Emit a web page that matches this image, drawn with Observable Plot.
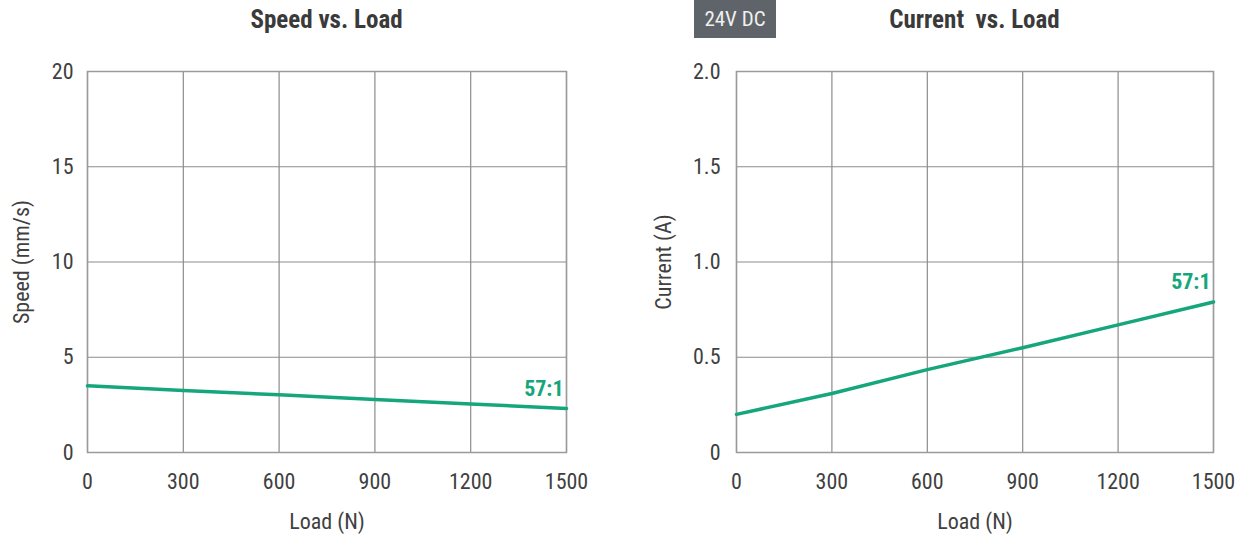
<!DOCTYPE html>
<html>
<head>
<meta charset="utf-8">
<script src="https://cdn.jsdelivr.net/npm/d3@7"></script>
<script src="https://cdn.jsdelivr.net/npm/@observablehq/plot@0.6"></script>
<style>
  html, body { margin: 0; padding: 0; background: #fff; }
  #page { position: relative; width: 1247px; height: 537px; overflow: hidden;
    font-family: "Liberation Sans Narrow", "Arial Narrow", "Roboto Condensed", "DejaVu Sans Condensed", sans-serif; color: #3d3d3d; }
  .title { position: absolute; top: 3px; height: 34px; line-height: 34px; font-size: 25px; font-weight: bold; text-align: center; white-space: pre; color: #3a3a3a; }
  .badge { position: absolute; left: 694px; top: 0px; width: 82px; height: 38px; line-height: 38px; background: #5e6469; color: #f0f0f0; font-size: 21px; text-align: center; }
  .chart { position: absolute; top: 44px; }
</style>
</head>
<body>
<div id="page">
  <div class="title" style="left:87px;width:479px;">Speed vs. Load</div>
  <div class="badge">24V DC</div>
  <div class="title" style="left:736px;width:477px;">Current  vs. Load</div>
  <div class="chart" id="left" style="left:0px;"></div>
  <div class="chart" id="right" style="left:623px;"></div>
</div>
<script>
const loads = [0, 300, 600, 900, 1200, 1500];
const speed = [3.5, 3.26, 3.03, 2.78, 2.55, 2.31];
const current = [0.2, 0.31, 0.435, 0.55, 0.67, 0.79];
const xTicks = [0, 300, 600, 900, 1200, 1500];
const speedTicks = [0, 5, 10, 15, 20];
const currentTicks = [0, 0.5, 1.0, 1.5, 2.0];
const currentTickLabels = ["0", "0.5", "1.0", "1.5", "2.0"];
const seriesLabel = "57:1";

const green = "#16a67c";
const gridColor = "#8c8c8c";
const font = '"Liberation Sans Narrow", "Arial Narrow", "Roboto Condensed", "DejaVu Sans Condensed", sans-serif';

function makeChart({values, yDomain, yTicks, yFormat, yLabel, width, marginLeft, marginRight, yTickPad, yLabelOffset}) {
  const data = loads.map((x, i) => ({x, y: values[i]}));
  const last = data[data.length - 1];
  return Plot.plot({
    width,
    height: 493,
    marginTop: 27,
    marginBottom: 85,
    marginLeft,
    marginRight,
    style: {fontFamily: font, fontSize: "24px", color: "#404040", background: "#fff", overflow: "visible"},
    x: {domain: [0, 1500]},
    y: {domain: yDomain},
    marks: [
      Plot.gridX(xTicks, {stroke: gridColor, strokeOpacity: 1, strokeWidth: 1.2}),
      Plot.gridY(yTicks, {stroke: gridColor, strokeOpacity: 1, strokeWidth: 1.2}),
      Plot.frame({stroke: "#9a9a9a", strokeWidth: 1.5}),
      Plot.axisX(xTicks, {tickSize: 0, tickPadding: 21, fontSize: 22, tickFormat: d => String(d), label: "Load (N)", labelAnchor: "center", labelArrow: "none", labelOffset: 76}),
      Plot.axisY(yTicks, {tickSize: 0, tickPadding: yTickPad, fontSize: 22, tickFormat: yFormat, label: yLabel, labelAnchor: "center", labelArrow: "none", labelOffset: yLabelOffset}),
      Plot.line(data, {x: "x", y: "y", stroke: green, strokeWidth: 3.5}),
      Plot.text([last], {x: "x", y: "y", text: () => seriesLabel, textAnchor: "end", dy: -20, dx: -3, fill: green, fontWeight: "bold", fontSize: 22})
    ]
  });
}

document.getElementById("left").append(makeChart({
  values: speed, yDomain: [0, 20], yTicks: speedTicks, yFormat: d => String(d),
  yLabel: "Speed (mm/s)", width: 623, marginLeft: 87, marginRight: 57, yTickPad: 14, yLabelOffset: 74
}));
document.getElementById("right").append(makeChart({
  values: current, yDomain: [0, 2], yTicks: currentTicks,
  yFormat: d => currentTickLabels[currentTicks.indexOf(d)],
  yLabel: "Current (A)", width: 624, marginLeft: 113, marginRight: 34, yTickPad: 16, yLabelOffset: 81
}));
</script>
</body>
</html>
